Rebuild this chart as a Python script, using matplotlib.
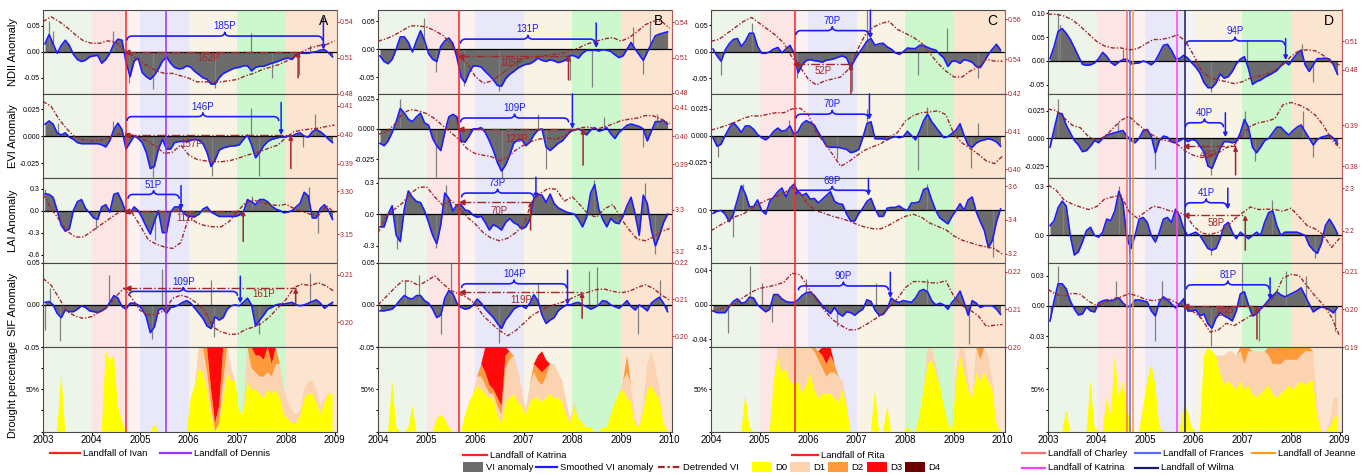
import numpy as np
import matplotlib
matplotlib.use('Agg')
import matplotlib.pyplot as plt
from matplotlib.lines import Line2D
from matplotlib.patches import Rectangle
from matplotlib.ticker import FormatStrFormatter

plt.rcParams['font.family'] = ['Liberation Sans', 'DejaVu Sans']
plt.rcParams['axes.unicode_minus'] = False

# ---------------- data (monthly smoothed anomaly, bimonthly detrended VI) ----------------
# column A : Ivan / Dennis, 2003-2009
a_ndii = [15,33,15,-3,12,22,12,-5,-15,-19,-16,-10,
          -8,-7,-22,-15,-3,15,24,22,-20,-48,-18,-12,
          -40,-48,-53,-45,-33,-18,-10,-22,-30,-33,-32,-27,
          -30,-38,-44,-50,-53,-62,-62,-50,-42,-38,-34,-31,
          -30,-27,-27,-37,-30,-28,-28,-25,-22,-20,-17,-14,
          -12,-15,-6,-3,-3,-3,-1,0,3,4,-2,-10]
a_ndii_dt = [.540,.544,.540,.535,.529,.524,.522,.522,.524,.523,.516,.512,.507,.503,.499,.497,.497,.495,
             .493,.490,.490,.490,.490,.491,.492,.495,.497,.500,.502,.504,.507,.511,.515,.518,.520,.521,.524]
a_ndii_sp = [(2003.12,.058),(2003.2,.04),(2004.45,.04),(2004.78,-.06),(2005.27,-.072),(2006.53,-.07),
             (2007.27,.035),(2007.72,-.05),(2008.27,-.045),(2008.5,.012)]
a_evi = [11,14,11,3,1,3,-1,-3,-6,-7,-7,-7,
         -7,-7,-8,-10,-4,6,12,6,-12,-6,0,-2,
         -6,-15,-30,-28,-12,-3,-12,-12,-6,-5,-5,-5,
         -4,-3,-4,-7,-15,-28,-22,-13,-11,-10,-9,-9,
         -8,-3,1,-8,-20,-15,-9,-5,-3,-2,-1,-1,
         0,0,2,3,0,-1,4,6,4,1,-3,-6]
a_evi_dt = [.4114,.4097,.4052,.4018,.3990,.3982,.3980,.3981,.3987,.4000,.4005,.4000,.3990,.3975,.3958,
            .3935,.3940,.3965,.3930,.3915,.3910,.3907,.3907,.3910,.3918,.3928,.3936,.3944,.3955,.3964,
            .3990,.4010,.4016,.4019,.4022,.4028,.4033]
a_evi_sp = [(2003.3,.012),(2004.45,.014),(2005.27,-.038),(2006.47,-.037),(2007.27,.026),(2007.45,-.037),
            (2008.6,.02),(2008.35,-.01)]
a_lai = [23,22,18,0,-20,-28,-25,0,12,15,3,-3,
         -10,-12,5,8,-2,22,24,12,-3,-4,5,0,
         -10,-22,-32,-15,0,-30,-30,-2,5,5,-2,-7,
         -8,-8,-5,2,5,-2,-5,-8,-8,-8,-8,-8,
         -6,-2,15,12,8,15,15,12,6,2,0,-3,
         -2,0,5,10,25,20,-10,-10,3,8,0,-12]
a_lai_dt = [3.29,3.24,3.20,3.16,3.14,3.14,3.16,3.18,3.20,3.22,3.235,3.225,3.18,3.13,3.115,3.105,3.10,3.12,
            3.21,3.19,3.18,3.176,3.176,3.195,3.23,3.26,3.27,3.26,3.255,3.25,3.255,3.24,3.23,3.22,3.215,3.25,3.225]
a_lai_sp = [(2003.05,.3),(2004.1,-.25),(2005.3,-.4),(2005.53,-.42),(2007.3,.2),(2008.48,.32),(2008.65,-.3)]
a_sif = [3,4,0,-10,-15,-6,-8,-8,-5,-1,-3,-7,
         -8,-9,-7,-4,3,11,8,-2,-5,2,2,0,
         -5,-14,-33,-26,-6,-4,-10,-3,-2,0,3,5,
         2,-4,-10,-16,-25,-28,-14,-18,-15,-5,-1,0,
         -1,3,8,0,-25,-18,-12,-5,-3,0,1,1,
         2,3,0,-1,0,2,4,6,2,-4,0,3]
a_sif_dt = [.2092,.2078,.2050,.2022,.2013,.2008,.2012,.2022,.2033,.2054,.2072,.2050,.2025,.2016,.2016,
            .2025,.2050,.2057,.2052,.2040,.2024,.1990,.1980,.1975,.1975,.1985,.1990,.1998,.2012,.2030,
            .2048,.2073,.2080,.2077,.2083,.2076,.2064]
a_sif_sp = [(2003.05,-.03),(2003.15,.02),(2003.35,-.043),(2004.35,.035),(2005.25,-.04),(2005.45,.043),
            (2006.45,.03),(2006.52,-.038),(2007.45,-.035),(2008.5,.038)]
a_d0 = [0,0,0,0,70,0,0,0,0,0,0,0,
        0,0,0,95,85,90,30,12,0,0,0,0,
        0,0,0,8,0,0,0,0,0,0,0,0,
        40,55,75,70,50,20,0,10,40,70,60,60,
        20,25,60,50,50,45,40,50,45,50,40,20,
        15,10,10,20,40,45,45,35,20,35,45,45]
a_d1 = [0]*36 + [0,0,25,30,20,10,0,0,20,30,15,0,
                 0,0,40,25,20,20,25,20,20,30,40,30,
                 20,15,10,5,10,15,15,15,10,5,0,0]
a_d2 = [0]*36 + [0,0,0,0,30,20,10,20,40,0,0,0,
                 0,0,0,25,20,25,20,30,15,20,0,0] + [0]*12
a_d3 = [0]*36 + [0,0,0,0,0,50,90,70,0,0,0,0,
                 0,0,0,0,10,10,15,0,20,0,0,0] + [0]*12

# column B : Katrina, 2004-2010
b_ndii = [-12,-22,-26,-18,0,22,22,12,-5,15,33,15,
          -8,-18,-22,5,15,20,10,-15,-50,-60,-42,-30,
          -30,-32,-40,-47,-55,-65,-66,-53,-45,-40,-34,-30,
          -27,-26,-22,-16,-20,-22,-19,-21,-24,-22,-19,-11,
          -12,-16,-7,-2,-2,-2,-3,-1,-2,-4,-10,-15,
          -12,0,12,0,-10,-20,-5,10,24,27,29,31]
b_ndii_dt = [.524,.526,.529,.533,.537,.537,.536,.533,.529,.522,.511,.505,.494,.488,.490,.495,.500,.506,
             .509,.510,.511,.512,.513,.514,.516,.519,.522,.524,.526,.527,.524,.527,.532,.538,.541,.541,.535]
b_ndii_sp = [(2004.95,.055),(2005.2,-.04),(2005.78,-.065),(2006.5,-.075),(2007.95,-.056),(2008.4,-.068),
             (2009.25,.04),(2009.6,.05),(2009.45,-.045)]
b_evi = [-12,-14,-10,-3,6,17,13,8,6,10,13,5,
         3,-8,-14,-18,-3,10,12,10,-10,-11,-6,0,
         0,1,-3,-10,-18,-28,-35,-30,-22,-12,-9,-9,
         -14,-11,-5,-1,0,-15,-18,-15,-12,-10,-6,-2,
         -1,0,-2,-5,-1,1,-2,-1,1,-4,-8,-3,
         0,3,4,3,2,0,-10,-2,6,6,7,4]
b_evi_dt = [.4006,.4015,.4040,.4080,.4094,.4090,.4080,.4062,.4037,.4013,.3988,.3955,.3938,.3932,.3927,
            .3912,.3925,.3950,.3968,.3982,.3990,.3993,.3989,.4000,.4018,.4030,.4032,.4025,.4033,.4043,
            .4055,.4060,.4064,.4073,.4072,.4060,.4045]
b_evi_sp = [(2004.45,.025),(2005.2,-.04),(2006.55,-.042),(2007.3,.012),(2007.45,-.033),(2008.65,.01),
            (2009.45,-.015),(2009.75,.012)]
b_lai = [-12,-12,0,8,-20,-26,5,22,16,12,11,3,
         -8,-20,-28,-10,20,15,3,9,9,4,3,-1,
         -3,-2,-8,-15,-10,-12,-15,-8,-4,-8,-10,-14,
         -12,-5,15,19,18,11,19,10,6,4,2,1,
         0,-5,-12,-3,20,28,5,-5,-12,-4,-8,-9,
         -2,8,16,0,-20,18,10,-15,-30,-20,-8,0]
b_lai_dt = [3.245,3.285,3.300,3.315,3.338,3.352,3.354,3.330,3.310,3.322,3.305,3.282,3.266,3.245,3.232,
            3.226,3.232,3.245,3.265,3.318,3.338,3.350,3.348,3.320,3.330,3.310,3.288,3.282,3.302,3.312,
            3.279,3.252,3.230,3.226,3.235,3.248,3.255]
b_lai_sp = [(2004.4,-.33),(2005.2,-.32),(2005.4,.28),(2008.45,.32),(2009.5,.3),(2009.7,-.38)]
b_sif = [-7,-7,-6,-5,0,6,11,8,7,11,11,5,
         2,-5,-15,-12,8,17,13,2,-3,-5,-4,0,
         7,2,-5,-10,-15,-22,-28,-18,-12,-5,-2,-1,
         -4,2,12,5,-12,-22,-18,-15,-7,-3,0,0,
         2,3,0,-2,-5,-3,0,5,4,0,-2,-4,
         0,5,-2,-6,0,-3,-7,2,6,9,2,-8]
b_sif_dt = [.2085,.2107,.2130,.2150,.2150,.2138,.2150,.2164,.2143,.2124,.2115,.2105,.2088,.2055,.2035,
            .2015,.2001,.2015,.2035,.2056,.2069,.2080,.2087,.2094,.2104,.2114,.2120,.2127,.2128,.2122,
            .2118,.2122,.2132,.2140,.2130,.2112,.2098]
b_sif_sp = [(2004.55,.03),(2004.85,.035),(2005.3,-.035),(2005.5,.05),(2006.5,-.045),(2007.3,.025),
            (2008.35,.04),(2008.5,.045),(2009.35,-.035),(2009.8,.03)]
b_d0 = [0,0,0,60,5,0,0,5,30,0,0,0,
        0,0,15,20,15,5,0,0,0,20,35,45,
        55,50,45,40,40,20,10,35,40,45,35,30,
        20,35,40,40,35,40,45,40,40,35,20,10,
        30,15,10,5,5,0,0,5,5,20,35,45,
        50,40,35,10,5,25,50,55,45,40,10,0]
b_d1 = [0]*24 + [10,15,10,5,5,10,10,40,45,45,40,20,
                 5,20,30,20,20,25,35,40,30,25,15,5,
                 5,0,0,0,0,0,0,0,0,0,0,0,
                 10,30,20,5,0,5,30,40,30,10,0,0]
b_d2 = [0]*24 + [0,15,15,10,5,10,10,15,10,0,0,0,
                 0,0,10,15,15,10,0,0,0,0,0,0] + [0]*12 + [0,20,0,0,0,0,0,0,0,0,0,0]
b_d3 = [0]*24 + [0,0,30,45,50,60,70,10,0,0,0,0,
                 0,0,0,15,25,10,0,0,0,0,0,0] + [0]*24

# column C : Rita, 2004-2010
c_ndii = [5,-8,-18,3,15,23,25,10,20,35,35,10,
          -3,-3,0,5,8,-2,5,12,-3,-40,-25,-17,
          -15,-17,-18,-20,-16,-15,-13,-10,-8,-12,-30,-15,
          -3,8,20,25,12,15,16,9,5,-2,-5,0,
          7,6,6,12,12,8,5,3,-5,-12,-28,-18,
          -18,-22,-15,-17,-20,-28,-30,-18,-5,5,14,3]
c_ndii_dt = [.549,.550,.553,.556,.559,.561,.558,.555,.552,.548,.541,.536,.530,.527,.529,.530,.531,.535,
             .544,.552,.556,.558,.559,.555,.553,.551,.548,.543,.538,.534,.531,.531,.534,.536,.540,.539,.539]
c_ndii_sp = [(2004.2,-.045),(2004.85,.055),(2005.78,-.05),(2006.9,-.075),(2007.22,.08),(2008.25,-.045),
             (2008.85,.045),(2009.5,-.05)]
c_evi = [-2,-10,-8,0,7,12,8,3,9,9,6,1,
         -2,-4,-1,4,7,4,5,9,1,4,11,14,
         12,10,3,-3,-10,-11,-11,-11,-12,-13,-16,-15,
         -13,-2,11,13,-3,-3,-3,-4,-2,-1,-2,-1,
         4,0,-4,4,14,20,13,8,3,-2,-1,2,
         5,11,0,-9,-11,-7,-5,-4,-3,-4,-6,-10]
c_evi_dt = [.4104,.4110,.4117,.4125,.4135,.4142,.4141,.4146,.4150,.4150,.4160,.4162,.4145,.4098,.4070,
            .4040,.4008,.4020,.4036,.4051,.4060,.4068,.4085,.4097,.4128,.4143,.4150,.4152,.4155,.4145,
            .4093,.4070,.4055,.4040,.4022,.4015,.4035]
c_evi_sp = [(2004.15,-.02),(2005.6,.015),(2006.6,-.022),(2007.2,.025),(2008.25,-.032),(2008.45,.027),
            (2009.35,-.03),(2009.5,.012)]
c_lai = [-4,-1,0,-5,-15,-5,14,33,22,5,5,14,
         0,-5,12,18,25,30,18,30,35,25,20,23,
         15,16,10,15,20,25,12,9,8,-5,-14,-14,
         -4,3,12,16,2,-8,-8,3,4,4,6,2,
         0,10,10,12,28,30,14,0,-10,-14,-18,-8,
         0,9,0,14,18,-2,-15,-27,-50,-40,-15,2]
c_lai_dt = [3.336,3.366,3.392,3.420,3.436,3.468,3.498,3.520,3.540,3.558,3.594,3.560,3.490,3.455,3.440,
            3.422,3.410,3.395,3.374,3.358,3.348,3.348,3.370,3.398,3.422,3.434,3.416,3.382,3.362,3.342,
            3.305,3.280,3.265,3.250,3.240,3.230,3.196]
c_lai_sp = [(2004.45,-.35),(2004.65,.35),(2005.7,.4),(2008.45,.35),(2009.8,-.62)]
c_sif = [-7,-9,-9,-9,-2,4,7,2,3,9,8,0,
         -4,-8,-5,12,12,7,4,3,3,6,11,14,
         15,11,5,-1,-6,-10,-3,-10,-13,-8,-9,-12,
         -8,-5,6,4,-6,-12,-11,-5,8,4,3,5,
         4,3,8,16,18,15,5,0,2,0,-5,3,
         8,16,3,-12,5,2,-3,-1,-1,-1,-5,-11]
c_sif_dt = [.2096,.2100,.2108,.2116,.2132,.2146,.2156,.2160,.2165,.2172,.2196,.2192,.2158,.2125,.2098,
            .2073,.2058,.2046,.2046,.2058,.2071,.2085,.2106,.2128,.2158,.2174,.2174,.2171,.2170,.2176,
            .2134,.2110,.2098,.2083,.2055,.2058,.2060]
c_sif_sp = [(2004.35,-.033),(2004.8,.045),(2005.05,.025),(2005.25,-.02),(2005.95,.03),(2006.6,-.025),
            (2007.4,.025),(2008.45,.03),(2009.3,-.045)]
c_d0 = [0,0,0,0,0,0,0,0,45,5,0,0,
        0,0,0,60,90,70,75,60,55,60,45,55,
        70,50,40,45,45,45,40,35,50,30,0,0,
        0,0,0,0,50,0,0,30,0,0,0,0,
        5,0,0,20,50,80,85,70,55,30,10,0,
        60,90,70,50,40,70,60,70,60,50,10,0]
c_d1 = [0]*12 + [0,0,0,0,10,30,25,40,45,40,55,45,
                 30,45,45,30,20,25,30,30,10,5,0,0] + [0]*12 + [0,0,0,0,0,20,15,10,0,0,0,0,
                 10,10,30,10,0,30,25,30,30,10,0,0]
c_d2 = [0]*24 + [0,5,10,15,15,20,10,0,0,0,0,0] + [0]*24 + [0,0,0,0,0,0,15,0,0,0,0,0]
c_d3 = [0]*24 + [0,0,0,10,20,10,0,0,0,0,0,0] + [0]*36

# column D : Florida storms, 2003-2009
d_ndii = [5,30,62,68,58,45,28,10,-7,-9,-8,-4,
          5,18,10,-3,-9,-2,3,4,-6,-5,-4,0,
          -3,-8,0,16,33,35,22,5,5,12,6,-4,
          -13,-25,-45,-56,-56,-46,-27,-36,-33,-22,-6,4,
          9,-16,-49,-43,-40,-34,-30,-25,-20,-10,-2,-8,
          5,15,23,-8,-22,-8,5,5,6,4,-8,-28]
d_ndii_dt = [.539,.539,.537,.533,.526,.518,.510,.505,.503,.503,.501,.502,.507,.512,.512,.514,.517,.510,
             .495,.478,.471,.469,.467,.465,.467,.471,.473,.475,.479,.485,.494,.500,.501,.500,.495,.487,.485]
d_ndii_sp = [(2003.2,.1),(2003.25,.075),(2004.55,.025),(2006.35,-.065),(2007.1,.045),(2008.22,.035),
             (2008.45,-.045)]
d_evi = [-8,8,23,22,12,5,-2,-6,-12,-11,-7,-2,
         -4,0,3,4,5,6,7,2,-2,-4,0,7,
         8,2,-13,-2,2,1,-3,-4,-2,0,-3,-1,
         -2,-7,-12,-25,-27,-18,-9,-3,-3,-4,-3,5,
         17,10,-8,-13,-8,-2,0,5,10,10,6,3,
         7,10,12,6,0,-6,-1,1,2,3,0,-5]
d_evi_dt = [.3940,.3936,.3918,.3900,.3894,.3872,.3864,.3872,.3892,.3912,.3922,.3904,.3888,.3875,.3865,
            .3861,.3853,.3836,.3826,.3821,.3824,.3832,.3845,.3851,.3878,.3898,.3906,.3910,.3916,.3950,
            .3956,.3950,.3940,.3925,.3900,.3866,.3844]
d_evi_sp = [(2003.2,.035),(2004.45,.015),(2005.2,-.028),(2006.35,-.033),(2007.05,.025),(2007.25,-.02),
            (2008.25,.025),(2008.45,-.017)]
d_lai = [6,9,17,21,18,0,-12,-10,-4,3,5,0,
         -1,2,10,9,15,27,20,-2,-8,0,10,11,
         8,0,-4,2,10,11,8,16,12,4,0,1,
         2,0,-4,-8,-9,-8,-2,6,8,2,-2,2,
         0,-2,0,2,0,8,14,15,6,0,2,2,
         2,2,1,0,-6,-9,-11,-5,6,10,6,1]
d_lai_dt = [2.308,2.296,2.272,2.263,2.256,2.250,2.257,2.275,2.280,2.284,2.245,2.230,2.244,2.258,2.254,
            2.247,2.244,2.237,2.210,2.194,2.191,2.196,2.207,2.227,2.242,2.256,2.250,2.251,2.250,2.246,
            2.253,2.233,2.212,2.204,2.190,2.160,2.182]
d_lai_sp = [(2003.3,.2),(2004.47,.3),(2004.67,-.1),(2006.35,-.12),(2007.6,.22),(2008.5,-.14)]
d_sif = [-15,5,22,22,17,5,-3,-9,-8,-1,-5,-6,
         3,5,6,5,6,8,3,-1,0,6,6,5,
         4,-5,-10,4,9,6,2,-2,2,7,-5,-5,
         -4,-10,-8,-18,-22,-12,-7,-10,-12,-15,-5,12,
         14,1,-10,-8,-3,1,6,10,14,11,9,11,
         13,15,18,10,2,-6,-3,-1,-2,-4,-7,-1]
d_sif_dt = [.2053,.2040,.2035,.2043,.2040,.2022,.2010,.2018,.2028,.2033,.2042,.2036,.2027,.2023,.2027,
            .2027,.2016,.2004,.1993,.1975,.1940,.1945,.1963,.1957,.1970,.1983,.1997,.2013,.2036,.2083,
            .2093,.2090,.2062,.2035,.2012,.1980,.1929]
d_sif_sp = [(2003.2,.04),(2004.4,.025),(2005.2,-.035),(2005.35,.025),(2006.35,-.04),(2007.0,.045),
            (2007.35,-.035),(2007.9,.035),(2008.3,.03),(2008.9,-.025)]
d_d0 = [0,0,0,0,25,0,0,0,0,0,60,5,
        0,0,40,20,90,40,60,30,5,0,0,30,
        60,80,55,5,0,0,0,0,0,30,25,5,
        0,0,90,100,95,90,70,55,60,55,50,60,
        50,55,45,40,45,50,55,45,40,45,50,55,
        50,55,60,55,60,60,20,0,0,5,15,20]
d_d1 = [0]*42 + [20,35,35,40,40,35,
                 30,40,50,55,50,45,35,35,40,35,35,30,
                 35,30,30,40,35,35,10,0,0,5,25,20]
d_d2 = [0]*47 + [5, 20,5,0,0,0,0,10,20,20,20,15,15,
                 15,15,10,5,5,0,0,0,0,0,0,0]

scales = [0.001, 0.001, 0.01, 0.001]
row_names = ['NDII Anomaly', 'EVI Anomaly', 'LAI Anomaly', 'SIF Anomaly']

# ---------------- layout / styling ----------------
W, H = 1372, 475
TOP, ROWH = 9.5, 84.4
BAND = ['#edf5ea', '#fbe5e5', '#e8e8f9', '#f8f3e5', '#cdf7cd', '#fbe5d0']
GRAY, BLUE, RED = '#6c6c6c', '#1c1cff', '#a3262a'
DCOL = ['#ffff00', '#fcd3b0', '#ff9a3c', '#ff0a0a', '#6e0000']
DT_LS = (0, (3, 1.3, 1, 1.3))
TICK_FS = 5

# per-row: (ylim, yticks, fmt, rylim, rticks, rfmt, blue brace, red line)
# blue: (x0, x1, y, label, arrow_x, arrow_from, arrow_to)
# red:  (x0, x1, y, label, label_x, label_y, arrow_from)
cols = [
    dict(start=2003, left=43, letter='A',
         series=[(a_ndii, a_ndii_dt, a_ndii_sp), (a_evi, a_evi_dt, a_evi_sp),
                 (a_lai, a_lai_dt, a_lai_sp), (a_sif, a_sif_dt, a_sif_sp)],
         drought=[a_d0, a_d1, a_d2, a_d3],
         storms=[(2004.71, '#ff2020'), (2005.53, '#9933ff')],
         light=[(2004.71, 2005.0, '#fdf1f1')],
         rows=[((-0.081, 0.081), [-0.05, 0, 0.05], '%.2f', (0.48, 0.55), [0.48, 0.51, 0.54], '%.2f',
                (2004.73, 2008.75, 0.03, '185P', 2008.77, 0.064, 0.004),
                (2004.73, 2008.25, 0.0, '162P', 2006.4, -0.013, -0.05)),
               ((-0.039, 0.039), [-0.025, 0, 0.025], '%.3f', (0.385, 0.414), [0.39, 0.40, 0.41], '%.2f',
                (2004.73, 2007.85, 0.018, '146P', 2007.9, 0.031, 0.001),
                (2004.73, 2008.1, 0.001, '157P', 2006.05, -0.007, -0.03)),
               ((-0.71, 0.44), [-0.6, -0.3, 0, 0.3], '%.1f', (3.05, 3.346), [3.15, 3.30], '%.2f',
                (2004.75, 2005.8, 0.22, '51P', 2005.84, 0.34, 0.01),
                (2004.73, 2007.12, 0.0, '111P', 2005.95, -0.1, -0.42)),
               ((-0.05, 0.05), [-0.05, 0, 0.05], '%.2f', (0.1948, 0.2125), [0.20, 0.21], '%.2f',
                (2004.77, 2007.0, 0.016, '109P', 2007.06, 0.034, 0.002),
                (2004.75, 2008.2, 0.02, '161P', 2007.55, 0.013, 0.0))]),
    dict(start=2004, left=378, letter='B',
         series=[(b_ndii, b_ndii_dt, b_ndii_sp), (b_evi, b_evi_dt, b_evi_sp),
                 (b_lai, b_lai_dt, b_lai_sp), (b_sif, b_sif_dt, b_sif_sp)],
         drought=[b_d0, b_d1, b_d2, b_d3],
         storms=[(2005.66, '#ff2020')],
         light=[(2005.66, 2006.0, '#fdf1f1')],
         rows=[((-0.08, 0.071), [-0.05, 0, 0.05], '%.2f', (0.479, 0.551), [0.48, 0.51, 0.54], '%.2f',
                (2005.7, 2008.47, 0.018, '131P', 2008.49, 0.047, 0.002),
                (2005.7, 2007.92, -0.012, '105P', 2006.75, -0.024, -0.055)),
               ((-0.041, 0.029), [-0.025, 0, 0.025], '%.3f', (0.385, 0.415), [0.39, 0.40, 0.41], '%.2f',
                (2005.7, 2007.92, 0.009, '109P', 2008.0, 0.029, 0.0),
                (2005.7, 2008.22, 0.0, '122P', 2006.85, -0.008, -0.03)),
               ((-0.46, 0.34), [-0.3, 0, 0.3], '%.1f', (3.174, 3.374), [3.2, 3.3], '%.1f',
                (2005.72, 2007.2, 0.2, '73P', 2007.25, 0.35, 0.15),
                (2005.72, 2007.14, 0.12, '70P', 2006.5, 0.03, -0.15)),
               ((-0.05, 0.05), [-0.05, 0, 0.05], '%.2f', (0.197, 0.22), [0.20, 0.21, 0.22], '%.2f',
                (2005.72, 2007.88, 0.025, '104P', 2007.9, 0.041, 0.0),
                (2005.72, 2008.2, 0.015, '119P', 2006.95, 0.006, -0.016))]),
    dict(start=2004, left=711, letter='C',
         series=[(c_ndii, c_ndii_dt, c_ndii_sp), (c_evi, c_evi_dt, c_evi_sp),
                 (c_lai, c_lai_dt, c_lai_sp), (c_sif, c_sif_dt, c_sif_sp)],
         drought=[c_d0, c_d1, c_d2, c_d3],
         storms=[(2005.73, '#ff2020')],
         light=[(2005.73, 2006.0, '#fdf1f1')],
         rows=[((-0.08, 0.08), [-0.05, 0, 0.05], '%.2f', (0.5225, 0.565), [0.54, 0.56], '%.2f',
                (2005.75, 2007.24, 0.04, '70P', 2007.28, 0.079, 0.025),
                (2005.75, 2006.88, -0.024, '52P', 2006.3, -0.037, -0.08)),
               ((-0.040, 0.039), [-0.025, 0, 0.025], '%.3f', (0.3976, 0.42), [0.40, 0.41, 0.42], '%.2f',
                (2005.75, 2007.24, 0.02, '70P', 2007.26, 0.039, 0.015), None),
               ((-0.70, 0.43), [-0.5, 0.0], '%.1f', (3.146, 3.648), [3.2, 3.4, 3.6], '%.1f',
                (2005.75, 2007.24, 0.27, '69P', 2007.24, 0.43, 0.2), None),
               ((-0.049, 0.049), [-0.04, 0, 0.04], '%.2f', (0.20, 0.2224), [0.20, 0.21, 0.22], '%.2f',
                (2005.8, 2007.65, 0.022, '90P', 2007.69, 0.038, 0.008), None)]),
    dict(start=2003, left=1048, letter='D',
         series=[(d_ndii, d_ndii_dt, d_ndii_sp), (d_evi, d_evi_dt, d_evi_sp),
                 (d_lai, d_lai_dt, d_lai_sp), (d_sif, d_sif_dt, d_sif_sp)],
         drought=[d_d0, d_d1, d_d2],
         storms=[(2004.62, '#ff6a6a'), (2004.68, '#5b6bff'), (2004.74, '#ff9a2a'),
                 (2005.65, '#ff40ff'), (2005.81, '#1a1a6a')],
         light=[(2004.62, 2005.0, '#fdf1f1'), (2005.81, 2006.0, '#f3f3fc')],
         rows=[((-0.069, 0.108), [-0.05, 0, 0.05, 0.10], '%.2f', (0.454, 0.544), [0.48, 0.51], '%.2f',
                (2005.83, 2007.87, 0.042, '94P', 2007.89, 0.047, 0.002), None),
               ((-0.036, 0.040), [-0.025, 0, 0.025], '%.3f', (0.377, 0.3977), [0.38, 0.39], '%.2f',
                (2005.83, 2006.61, 0.014, '40P', 2006.65, 0.023, 0.001),
                (2005.83, 2006.86, -0.007, '48P', 2006.3, -0.015, -0.033)),
               ((-0.167, 0.35), [0.0, 0.3], '%.1f', (2.124, 2.324), [2.2, 2.3], '%.1f',
                (2005.83, 2006.68, 0.2, '41P', 2006.7, 0.29, 0.16),
                (2005.83, 2007.06, 0.124, '58P', 2006.45, 0.074, -0.09)),
               ((-0.041, 0.043), [-0.03, 0, 0.03], '%.2f', (0.19, 0.2124), [0.19, 0.20, 0.21], '%.2f',
                (2005.85, 2007.55, 0.021, '81P', 2007.57, 0.028, 0.006),
                (2005.85, 2007.3, 0.0, '69P', 2006.65, -0.007, -0.033))]),
]


def brace(ax, x0, x1, y, h, color):
    xm = (x0 + x1) / 2
    w = min(0.1, (x1 - x0) / 5)
    th = np.linspace(0, np.pi / 2, 12)
    rt = th[::-1]
    xs = np.concatenate([x0 + w * (1 - np.cos(th)), xm - w + w * np.sin(th),
                         xm + w - w * np.sin(rt), x1 - w * (1 - np.cos(rt))])
    ys = np.concatenate([y - h + h * np.sin(th), y + h * (1 - np.cos(th)),
                         y + h * (1 - np.cos(rt)), y - h + h * np.sin(rt)])
    ax.plot(xs, ys, color=color, lw=1.2, zorder=6, solid_capstyle='round')


def background(ax, c):
    s = c['start']
    for k in range(6):
        ax.axvspan(s + k, s + k + (1.2 if k == 5 else 1), color=BAND[k], lw=0, zorder=0)
    for x0, x1, col in c['light']:
        ax.axvspan(x0, x1, color=col, lw=0, zorder=0)
    for x, col in c['storms']:
        ax.axvline(x, color=col, lw=1.1, zorder=4)


def style_spines(ax):
    for sp in ax.spines.values():
        sp.set_color('#4a4a4a')
        sp.set_linewidth(0.8)


fig = plt.figure(figsize=(W / 100, H / 100), dpi=100)

for c in cols:
    s = c['start']
    for i in range(5):
        ax = fig.add_axes([c['left'] / W, 1 - (TOP + ROWH * (i + 1)) / H, 294 / W, ROWH / H])
        ax.set_xlim(s, s + 6.05)
        background(ax, c)
        style_spines(ax)
        ax.set_xticks(range(s, s + 7))
        if i < 4:
            v_raw, dt, sp = c['series'][i]
            ylim, yt, fmt, rylim, rt, rfmt, blue, red = c['rows'][i]
            t = s + (np.arange(len(v_raw)) + 0.5) / 12
            v = np.array(v_raw) * scales[i]
            ax.fill_between(t, 0, v, color=GRAY, lw=0, zorder=1)
            st, sv = zip(*sp)
            ax.vlines(st, 0, sv, color='#808080', lw=0.9, zorder=1)
            ax.plot(t, v, color=BLUE, lw=1.2, zorder=3)
            ax.axhline(0, color='black', lw=0.9, zorder=2)
            ax.set_ylim(*ylim)
            ax.set_yticks(yt)
            ax.yaxis.set_major_formatter(FormatStrFormatter(fmt))
            ax.tick_params(axis='y', labelsize=TICK_FS, length=1.5, pad=0.7)
            ax.tick_params(axis='x', bottom=False, labelbottom=False)
            ax.spines['right'].set_visible(False)

            hh = 0.045 * (ylim[1] - ylim[0])
            x0, x1, yb, lab, axx, ay0, ay1 = blue
            brace(ax, x0, x1, yb, hh, BLUE)
            ax.text((x0 + x1) / 2, yb + hh * 1.25, lab, color=BLUE, fontsize=7, ha='center', va='bottom', zorder=7)
            ax.annotate('', xy=(axx, ay1), xytext=(axx, ay0), zorder=7,
                        arrowprops=dict(arrowstyle='-|>', color=BLUE, lw=1.1, mutation_scale=6, shrinkA=0, shrinkB=0))
            if red is not None:
                x0, x1, yr, lab, lx, ly, ry0 = red
                ax.plot([x0, x1], [yr, yr], color=RED, ls='-.', lw=1.0, zorder=5)
                ax.plot([x0], [yr], marker='<', ms=3.5, color=RED, zorder=5)
                ax.text(lx, ly, lab, color=RED, fontsize=7, ha='center', va='center', zorder=7)
                ax.annotate('', xy=(x1, yr), xytext=(x1, ry0), zorder=7,
                            arrowprops=dict(arrowstyle='-|>', color=RED, lw=1.1, mutation_scale=6, shrinkA=0, shrinkB=0))

            ax2 = ax.twinx()
            td = s + np.arange(len(dt)) / 6
            ax2.plot(td, dt, color=RED, ls=DT_LS, lw=1.0, zorder=5)
            ax2.set_ylim(*rylim)
            ax2.set_yticks(rt)
            ax2.yaxis.set_major_formatter(FormatStrFormatter(rfmt))
            ax2.tick_params(axis='y', labelsize=TICK_FS, length=1.5, pad=0.7, colors=RED)
            for k in ('left', 'top', 'bottom'):
                ax2.spines[k].set_visible(False)
            ax2.spines['right'].set_color('#b85a5a')
            ax2.spines['right'].set_linewidth(0.8)
            if i == 0:
                ax.text(0.955, 0.86, c['letter'], transform=ax.transAxes, fontsize=10, ha='center', va='center', zorder=8)
            if c['letter'] == 'A':
                ax.set_ylabel(row_names[i], fontsize=8)
                ax.yaxis.set_label_coords(-0.085, 0.5)
        else:
            t = s + (np.arange(72) + 0.5) / 12
            ax.stackplot(t, *c['drought'], colors=DCOL[:len(c['drought'])], lw=0, zorder=1)
            ax.set_ylim(0, 100)
            ax.set_yticks([0, 25, 50, 75, 100])
            ax.set_yticklabels(['', '', '50%', '', ''])
            ax.tick_params(axis='y', labelsize=TICK_FS, length=1.5, pad=0.7)
            ax.tick_params(axis='x', labelsize=7, length=2, pad=0.5)
            if c['letter'] == 'A':
                ax.set_ylabel('Drought percentage', fontsize=7.8)
                ax.yaxis.set_label_coords(-0.085, 0.5)


# ---------------- legends (figure pixel coordinates) ----------------
def fx(px):
    return px / W


def fy(py):
    return 1 - py / H


def leg_line(x0, x1, y, color, label, ls='-'):
    fig.add_artist(Line2D([fx(x0), fx(x1)], [fy(y), fy(y)], color=color, lw=1.6, ls=ls,
                          transform=fig.transFigure))
    fig.text(fx(x1 + 3), fy(y), label, fontsize=6.8, ha='left', va='center')


def leg_box(x0, x1, y, color, label):
    fig.add_artist(Rectangle((fx(x0), fy(y + 5)), fx(x1 - x0), 10 / H, facecolor=color, edgecolor='none',
                             transform=fig.transFigure))
    fig.text(fx(x1 + 3), fy(y), label, fontsize=6.8, ha='left', va='center')


leg_line(50, 80, 453, '#ff2020', 'Landfall of Ivan')
leg_line(160, 191, 453, '#9933ff', 'Landfall of Dennis')
leg_line(463, 487, 455, '#ff2020', 'Landfall of Katrina')
leg_box(463, 483, 467, GRAY, 'VI anomaly')
leg_line(536, 557, 467, BLUE, 'Smoothed VI anomaly')
leg_line(658, 680, 467, RED, 'Detrended VI', ls=DT_LS)
for k, (xa, lab) in enumerate([(752, 'D0'), (790, 'D1'), (828, 'D2'), (867, 'D3'), (905, 'D4')]):
    leg_box(xa, xa + 20, 467, DCOL[k], lab)
leg_line(792, 818, 455, '#ff2020', 'Landfall of Rita')
leg_line(1022, 1045, 453, '#ff6a6a', 'Landfall of Charley')
leg_line(1135, 1160, 453, '#5b6bff', 'Landfall of Frances')
leg_line(1252, 1275, 453, '#ff9a2a', 'Landfall of Jeanne')
leg_line(1022, 1045, 468, '#ff40ff', 'Landfall of Katrina')
leg_line(1135, 1158, 468, '#1a1a6a', 'Landfall of Wilma')

fig.savefig('out.png', dpi=100)
